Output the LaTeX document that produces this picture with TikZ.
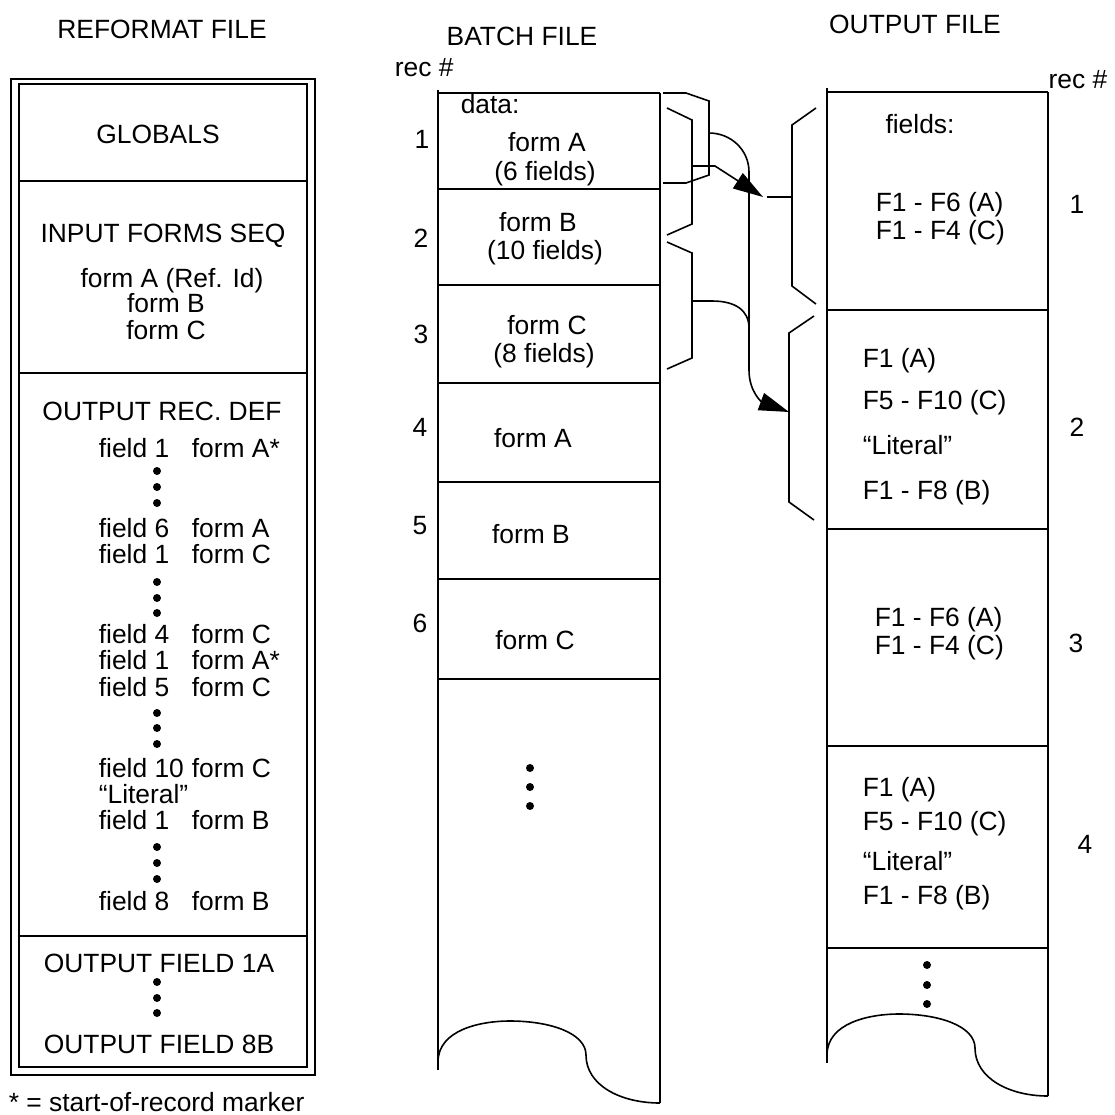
\documentclass[tikz,border=0pt]{standalone}
\usepackage{fontspec}
\setmainfont{Liberation Sans}
\usetikzlibrary{arrows.meta}
\begin{document}
\begin{tikzpicture}[x=0.5pt,y=-0.5pt,line width=0.8pt,line join=miter,
  txt/.style={inner sep=0pt,anchor=base,font=\fontsize{13.2}{15}\selectfont},
  txtl/.style={txt,anchor=base west},
  dotc/.style={fill=black},
  conn/.style={line width=0.8pt},
  arr/.style={conn,-{Triangle[length=15pt,width=9pt]}}]
\useasboundingbox (0,0) rectangle (1115,1115);

% ---------------- REFORMAT FILE ----------------
\node[txt] (rtitle) at (162,38) {REFORMAT FILE};
\draw (11,79) rectangle (315,1075);
\draw[line width=1pt] (19,84) rectangle (307,1067);
\draw (19,181) -- (307,181);
\draw (19,373) -- (307,373);
\draw (19,936) -- (307,936);
\node[txt] (glob) at (158,143) {GLOBALS};
\node[txt] (ifs) at (163,242) {INPUT FORMS SEQ};
\node[txt] (ifa) at (172,287) {form A (Ref. Id)};
\node[txt] (ifb) at (166,312) {form B};
\node[txt] (ifc) at (166,339) {form C};
\node[txt] (ord) at (162,420) {OUTPUT REC. DEF};
\node[txtl] (f1) at (98,457) {field 1};  \node[txtl] (g1) at (191,457) {form A*};
\node[txtl] (f2) at (98,537) {field 6};  \node[txtl] (g2) at (191,537) {form A};
\node[txtl] (f3) at (98,563) {field 1};  \node[txtl] (g3) at (191,563) {form C};
\node[txtl] (f4) at (98,643) {field 4};  \node[txtl] (g4) at (191,643) {form C};
\node[txtl] (f5) at (98,669) {field 1};  \node[txtl] (g5) at (191,669) {form A*};
\node[txtl] (f6) at (98,696) {field 5};  \node[txtl] (g6) at (191,696) {form C};
\node[txtl] (f7) at (98,777) {field 10}; \node[txtl] (g7) at (191,777) {form C};
\node[txtl] (f8) at (98,803) {“Literal”};
\node[txtl] (f9) at (98,829) {field 1};  \node[txtl] (g9) at (191,829) {form B};
\node[txtl] (f10) at (98,910) {field 8}; \node[txtl] (g10) at (191,910) {form B};
\foreach \y in {471,487,503,582,598,613,713,728,744,847,863,879,982,998,1013}
  \fill[dotc] (157,\y) circle[radius=2pt];
\node[txt] (of1) at (159,972) {OUTPUT FIELD 1A};
\node[txt] (of8) at (159,1053) {OUTPUT FIELD 8B};
\node[txtl] (note) at (8,1111) {* = start-of-record marker};

% ---------------- BATCH FILE ----------------
\node[txt] (btitle) at (522,45) {BATCH FILE};
\node[txtl] (brec) at (394,76) {rec \#};
\draw (438,90) -- (438,1070);
\draw (660,93) -- (660,1103);
\foreach \y in {93,189,285,383,482,579,679}
  \draw (438,\y) -- (660,\y);
\draw (438,1062) .. controls (438,1030) and (480,1021) .. (510,1021)
  .. controls (550,1021) and (586,1033) .. (586,1055)
  .. controls (586,1085) and (620,1103) .. (660,1103);
\node[txtl] (bdata) at (460,113) {data:};
\node[txt] (b1a) at (547,151) {form A};
\node[txt] (b1b) at (545,180) {(6 fields)};
\node[txt] (bn1) at (422,148) {1};
\node[txt] (b2a) at (538,231) {form B};
\node[txt] (b2b) at (545,259) {(10 fields)};
\node[txt] (bn2) at (421,247) {2};
\node[txt] (b3a) at (547,334) {form C};
\node[txt] (b3b) at (544,362) {(8 fields)};
\node[txt] (bn3) at (421,343) {3};
\node[txt] (bn4) at (420,436) {4};
\node[txt] (b4a) at (533,447) {form A};
\node[txt] (bn5) at (420,534) {5};
\node[txt] (b5a) at (531,543) {form B};
\node[txt] (bn6) at (420,632) {6};
\node[txt] (b6a) at (535,649) {form C};
\foreach \y in {768,787,806}
  \fill[dotc] (530,\y) circle[radius=2pt];

% ---------------- OUTPUT FILE ----------------
\node[txt] (otitle) at (915,33) {OUTPUT FILE};
\node[txt] (orec) at (1078,88) {rec \#};
\draw (827,88) -- (827,1063);
\draw (1048,92) -- (1048,1096);
\foreach \y in {92,310,529,746,948}
  \draw (827,\y) -- (1048,\y);
\draw (827,1055) .. controls (827,1023) and (869,1014) .. (899,1014)
  .. controls (939,1014) and (975,1026) .. (975,1048)
  .. controls (975,1078) and (1009,1096) .. (1048,1096);
\node[txt] (ofields) at (920,133) {fields:};
\node[txtl] (o1a) at (875,211) {F1 - F6 (A)};
\node[txtl] (o1b) at (875,239) {F1 - F4 (C)};
\node[txt] (on1) at (1077,213) {1};
\node[txtl] (o2a) at (862,367) {F1 (A)};
\node[txtl] (o2b) at (862,409) {F5 - F10 (C)};
\node[txtl] (o2c) at (862,454) {“Literal”};
\node[txtl] (o2d) at (862,499) {F1 - F8 (B)};
\node[txt] (on2) at (1077,436) {2};
\node[txtl] (o3a) at (874,626) {F1 - F6 (A)};
\node[txtl] (o3b) at (874,654) {F1 - F4 (C)};
\node[txt] (on3) at (1076,652) {3};
\node[txtl] (o4a) at (862,796) {F1 (A)};
\node[txtl] (o4b) at (862,830) {F5 - F10 (C)};
\node[txtl] (o4c) at (862,870) {“Literal”};
\node[txtl] (o4d) at (862,904) {F1 - F8 (B)};
\node[txt] (on4) at (1085,853) {4};
\foreach \y in {965,985,1004}
  \fill[dotc] (927,\y) circle[radius=2pt];

% ---------------- BRACES ----------------
\coordinate (b1m) at (709,133);
\coordinate (b2m) at (692,166);
\coordinate (b3m) at (692,301);
\coordinate (ob1m) at (792,197);
\coordinate (ob1t) at (767,197);
\coordinate (ob2m) at (789,412);
\coordinate (join) at (749,328);
\draw (663,93) -- (686,93) -- (709,101) -- (709,175) -- (686,183) -- (663,183);
\draw (667,108) -- (692,120) -- (692,224) -- (667,235);
\draw (667,242) -- (692,253) -- (692,358) -- (667,369);
\draw (816,108) -- (792,125) -- (792,286) -- (816,304);
\draw (ob1m) -- (ob1t);
\draw (814,316) -- (789,333) -- (789,502) -- (814,520);

% ---------------- CONNECTORS ----------------
\draw[arr] (b2m) -- (715,166) -- (763,197);
\draw[arr] (b1m) .. controls (731,133) and (749,150) .. (749,172)
  -- (749,370) .. controls (749,392) and (762,402) .. (ob2m);
\draw[conn] (b3m) -- (712,301) .. controls (735,301) and (749,310) .. (join);
\end{tikzpicture}
\end{document}
